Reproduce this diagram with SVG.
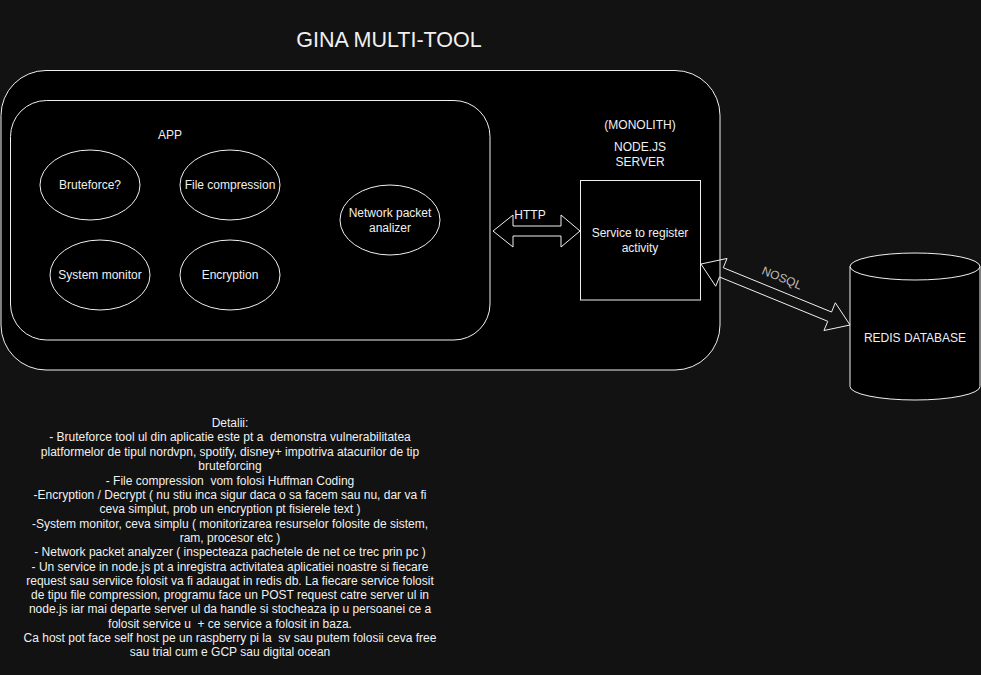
<svg xmlns="http://www.w3.org/2000/svg" width="981" height="675" viewBox="0 0 981 675">
<style>
.s{stroke:#f0f0f0;stroke-width:1;fill:#000}
.a{stroke:#f0f0f0;stroke-width:1;fill:none}
text{font-family:"Liberation Sans",Arial,sans-serif;font-size:12px;fill:#f0f0f0;text-anchor:middle;white-space:pre}
</style>
<rect width="981" height="675" fill="#121212"/>
<text id="title" x="389" y="47" style="font-size:21.5px">GINA MULTI-TOOL</text>
<g id="monolith">
<rect class="s" x="1" y="70.5" width="719" height="299.5" rx="45" ry="45"/>
<text x="640" y="129">(MONOLITH)</text>
<text x="640" y="151">NODE.JS</text>
<text x="640" y="166">SERVER</text>
</g>
<g id="app">
<rect class="s" x="10.5" y="100.5" width="479.5" height="239.5" rx="36" ry="36"/>
<text x="170" y="139">APP</text>
</g>
<g id="bruteforce"><ellipse class="s" cx="90" cy="185" rx="50" ry="35"/><text x="90" y="189">Bruteforce?</text></g>
<g id="filecompression"><ellipse class="s" cx="230" cy="185" rx="50" ry="35"/><text x="230" y="189">File compression</text></g>
<g id="systemmonitor"><ellipse class="s" cx="100" cy="275" rx="50" ry="35"/><text x="100" y="279">System monitor</text></g>
<g id="encryption"><ellipse class="s" cx="230" cy="275" rx="50" ry="35"/><text x="230" y="279">Encryption</text></g>
<g id="network"><ellipse class="s" cx="390" cy="220" rx="50" ry="35"/><text x="390" y="217">Network packet</text><text x="390" y="232">analizer</text></g>
<g id="service"><rect class="s" x="580.5" y="180.5" width="120" height="119.5"/><text x="640" y="237">Service to register</text><text x="640" y="252">activity</text></g>
<g id="redis">
<path class="s" d="M850,266.5 a65,13.5 0 0 1 130,0 v120 a65,13.5 0 0 1 -130,0 Z"/>
<path class="a" d="M850,266.5 a65,13.5 0 0 0 130,0"/>
<text x="915" y="342">REDIS DATABASE</text>
</g>
<g id="connectors">
<polygon class="a" points="493,231 513,215 513,226 561,226 561,215 580,231 561,247 561,236 513,236 513,247"/>
<text x="530" y="219">HTTP</text>
<polygon class="a" points="701,264 727.05,258.46 723.26,267.71 831.54,312.03 835.33,302.78 850,325 823.96,330.54 827.75,321.29 719.47,276.97 715.67,286.22"/>
<text x="782" y="282" transform="rotate(22.3 782 278)" style="fill:#bdbdbd">NOSQL</text>
</g>
<g id="details">
<text x="230" y="427">Detalii:</text>
<text x="230" y="441">- Bruteforce tool ul din aplicatie este pt a  demonstra vulnerabilitatea</text>
<text x="230" y="456">platformelor de tipul nordvpn, spotify, disney+ impotriva atacurilor de tip</text>
<text x="230" y="470">bruteforcing</text>
<text x="230" y="485">- File compression  vom folosi Huffman Coding</text>
<text x="230" y="499">-Encryption / Decrypt ( nu stiu inca sigur daca o sa facem sau nu, dar va fi</text>
<text x="230" y="513">ceva simplut, prob un encryption pt fisierele text )</text>
<text x="230" y="528">-System monitor, ceva simplu ( monitorizarea resurselor folosite de sistem,</text>
<text x="230" y="542">ram, procesor etc )</text>
<text x="230" y="556">- Network packet analyzer ( inspecteaza pachetele de net ce trec prin pc )</text>
<text x="230" y="571">- Un service in node.js pt a inregistra activitatea aplicatiei noastre si fiecare</text>
<text x="230" y="585">request sau serviice folosit va fi adaugat in redis db. La fiecare service folosit</text>
<text x="230" y="599">de tipu file compression, programu face un POST request catre server ul in</text>
<text x="230" y="613">node.js iar mai departe server ul da handle si stocheaza ip u persoanei ce a</text>
<text x="230" y="628">folosit service u  + ce service a folosit in baza.</text>
<text x="230" y="642">Ca host pot face self host pe un raspberry pi la  sv sau putem folosii ceva free</text>
<text x="230" y="656">sau trial cum e GCP sau digital ocean</text>
</g>
</svg>
